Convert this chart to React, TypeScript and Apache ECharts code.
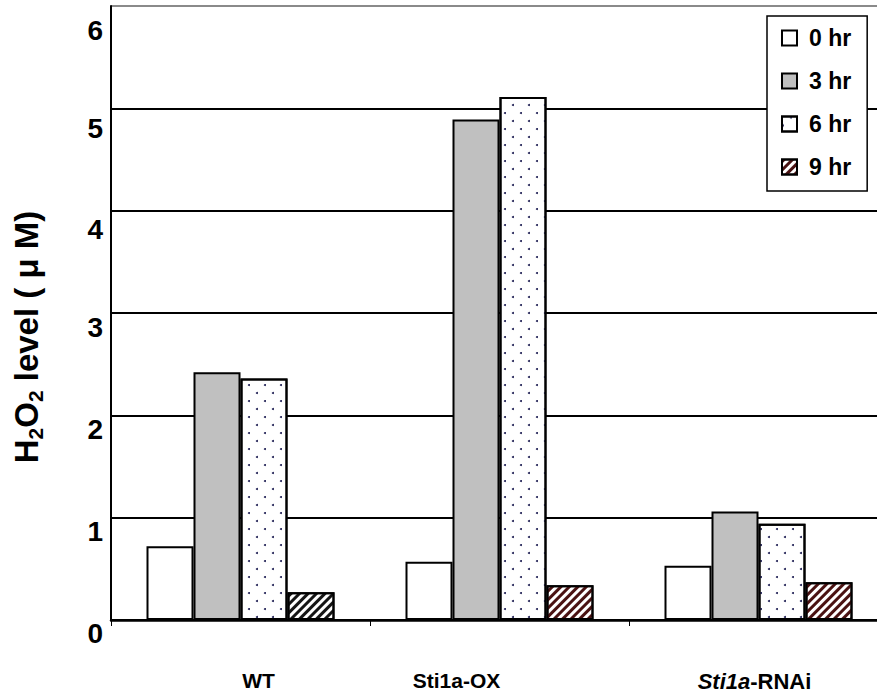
import React, { useEffect, useRef } from "react";
import * as echarts from "echarts";

const categories = ["WT", "Sti1a-OX", "Sti1a-RNAi"];
const seriesNames = ["0 hr", "3 hr", "6 hr", "9 hr"];
const hr0 = [0.72, 0.57, 0.53];
const hr3 = [2.42, 4.89, 1.06];
const hr6 = [2.36, 5.11, 0.94];
const hr9 = [0.27, 0.34, 0.37];
const yTicks = [0, 1, 2, 3, 4, 5, 6];

const FONT = "Liberation Sans, Arial, sans-serif";

const dotDecal = {
  symbol: "circle",
  symbolSize: 1,
  color: "#1c1c52",
  dashArrayX: [[2, 13.6], [0, 7.8, 2, 5.8]],
  dashArrayY: [2, 5.7],
  rotation: 0,
};

const stripe = (color: string) => ({
  symbol: "rect",
  symbolSize: 1,
  color,
  dashArrayX: [1, 0],
  dashArrayY: [2.3, 2.4],
  rotation: -Math.PI / 4,
});

export default function App() {
  const ref = useRef<HTMLDivElement>(null);
  useEffect(() => {
    if (!ref.current) return;
    const chart = echarts.init(ref.current, undefined, { renderer: "svg" });
    const border = { borderColor: "#000", borderWidth: 2 };
    const labelPads: Record<number, number> = { 6: 48, 5: 40, 4: 38, 3: 28, 2: 28, 1: 28, 0: 26 };
    const yRich: Record<string, any> = {};
    yTicks.forEach((t) => {
      yRich["r" + t] = {
        fontSize: 28,
        fontWeight: "bold",
        fontFamily: FONT,
        color: "#000",
        padding: [labelPads[t], 0, 0, 0],
      };
    });
    const xLabelStyle = { fontSize: 21, fontWeight: "bold", fontFamily: FONT, color: "#000" };
    const rnStyle = { ...xLabelStyle, fontSize: 22 };
    chart.setOption({
      animation: false,
      backgroundColor: "#fff",
      grid: { left: 111, top: 6, width: 777, height: 614 },
      legend: {
        data: seriesNames,
        orient: "vertical",
        left: 767,
        top: 16,
        padding: [9, 16, 11, 14],
        itemWidth: 15,
        itemHeight: 15,
        itemGap: 17,
        icon: "rect",
        borderColor: "#000",
        borderWidth: 1.5,
        backgroundColor: "#fff",
        textStyle: {
          fontSize: 23,
          fontWeight: "bold",
          fontFamily: FONT,
          color: "#000",
          lineHeight: 26,
          padding: [0, 0, 0, 7],
        },
      },
      xAxis: {
        type: "category",
        data: categories,
        axisLine: { lineStyle: { color: "#000", width: 2.5 } },
        axisTick: { show: true, length: 6, lineStyle: { color: "#000", width: 1 } },
        axisLabel: {
          margin: 50,
          formatter: (v: string) => {
            if (v === "WT") return "{w|WT}";
            if (v === "Sti1a-OX") return "{o|Sti1a-OX}";
            return "{ri|Sti1a}{rn|-RNAi}";
          },
          rich: {
            w: { ...xLabelStyle, padding: [0, 0, 0, 36] },
            o: { ...xLabelStyle, padding: [0, 86, 0, 0] },
            ri: { ...rnStyle, fontStyle: "italic" },
            rn: { ...rnStyle, padding: [0, 8, 0, 0] },
          },
        },
      },
      yAxis: {
        type: "value",
        min: 0,
        max: 6,
        interval: 1,
        axisLine: { show: true, lineStyle: { color: "#000", width: 2 } },
        axisTick: { show: false },
        splitLine: {
          show: true,
          lineStyle: {
            color: ["#000", "#000", "#000", "#000", "#000", "#000", "#8a8a8a"],
            width: 2,
          },
        },
        axisLabel: {
          margin: 8,
          fontSize: 28,
          fontWeight: "bold",
          formatter: (v: number) => `{r${v}|${v}}`,
          rich: yRich,
        },
      },
      graphic: [
        {
          type: "text",
          x: 26,
          y: 337,
          rotation: Math.PI / 2,
          style: {
            text: "{b|H}{s|2}{b|O}{s|2}{b| level ( μ M)}",
            align: "center",
            verticalAlign: "middle",
            rich: {
              b: { fontSize: 33, fontWeight: "bold", fontFamily: FONT, fill: "#000", lineHeight: 40, verticalAlign: "middle" },
              s: { fontSize: 21, fontWeight: "bold", fontFamily: FONT, fill: "#000", lineHeight: 22, verticalAlign: "bottom" },
            },
          },
        },
      ],
      series: [
        {
          name: seriesNames[0],
          type: "bar",
          data: hr0,
          barWidth: 47,
          barGap: "0%",
          itemStyle: { color: "#fff", ...border },
        },
        {
          name: seriesNames[1],
          type: "bar",
          data: hr3,
          barWidth: 47,
          barGap: "0%",
          itemStyle: { color: "#c0c0c0", ...border },
        },
        {
          name: seriesNames[2],
          type: "bar",
          data: hr6,
          barWidth: 47,
          barGap: "0%",
          itemStyle: { color: "#fff", ...border, decal: dotDecal },
        },
        {
          name: seriesNames[3],
          type: "bar",
          data: hr9.map((v, i) =>
            i === 0 ? { value: v, itemStyle: { decal: stripe("#151515") } } : v
          ),
          barWidth: 47,
          barGap: "0%",
          itemStyle: { color: "#fff", ...border, decal: stripe("#4a1212") },
        },
      ],
    });
    return () => chart.dispose();
  }, []);
  return (
    <div
      ref={ref}
      style={{ position: "fixed", left: 0, top: 0, width: 900, height: 698 }}
    />
  );
}
